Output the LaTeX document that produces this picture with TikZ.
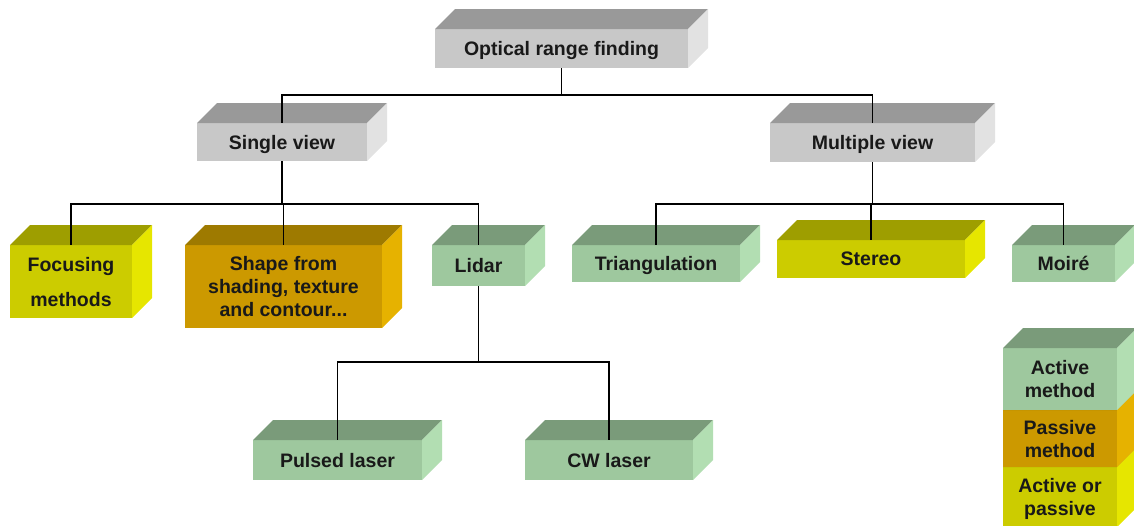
\documentclass[tikz,border=0pt]{standalone}
\usepackage{fontspec}
\setmainfont{Liberation Sans}
\usepackage{xcolor}
% face colours of the blocks: front, top, side
\definecolor{greyfront}{RGB}{200,200,200}
\definecolor{greytop}{RGB}{153,153,153}
\definecolor{greyside}{RGB}{226,226,226}
\definecolor{greenfront}{RGB}{158,200,158}
\definecolor{greentop}{RGB}{122,155,122}
\definecolor{greenside}{RGB}{178,222,178}
\definecolor{olivefront}{RGB}{204,204,0}
\definecolor{olivetop}{RGB}{158,158,0}
\definecolor{oliveside}{RGB}{230,230,0}
\definecolor{amberfront}{RGB}{204,153,0}
\definecolor{ambertop}{RGB}{158,122,0}
\definecolor{amberside}{RGB}{230,178,0}

\tikzset{
  boxface/.style={inner sep=0pt, outer sep=0pt, align=center, anchor=north west,
    text depth=0pt, font=\fontsize{19.5}{23}\selectfont\bfseries, text=black!90},
  link/.style={line width=1.6pt},
}

% block with a front face, a top face and a right side face
% #1 name, #2 left, #3 top, #4 width, #5 height, #6 colour set, #7 text
\newcommand{\methodbox}[7]{%
  \node[boxface, fill=#6front, minimum width=#4pt, minimum height=#5pt] (#1) at (#2,#3) {#7};
  \fill[#6top] (#1.north west) -- ++(20,-20) -- ([shift={(20,-20)}]#1.north east) -- (#1.north east) -- cycle;
  \fill[#6side] (#1.north east) -- ++(20,-20) -- ([shift={(20,-20)}]#1.south east) -- (#1.south east) -- cycle;
}

\begin{document}
\begin{tikzpicture}[x=1pt, y=-1pt]
    \clip (0,0) rectangle (1134,525);

    % Root and the two branches
    \methodbox{root}{435}{29}{253}{39}{grey}{Optical range finding}
    \methodbox{single}{197}{123}{170}{38}{grey}{Single view}
    \methodbox{multi}{770}{123}{205}{39}{grey}{Multiple view}

    % Single view methods
    \methodbox{focus}{10}{245}{122}{73}{olive}{Focusing\\[12pt]methods}
    \methodbox{shape}{185}{245}{197}{83}{amber}{Shape from\\shading, texture\\and contour...}
    \methodbox{lidar}{432}{245}{93}{41}{green}{Lidar}

    % Multiple view methods
    \methodbox{triang}{572}{245}{168}{37}{green}{Triangulation}
    \methodbox{stereo}{777}{240}{188}{38}{olive}{Stereo}
    \methodbox{moire}{1012}{245}{103}{37}{green}{Moir\'e}

    % Lidar types
    \methodbox{pulsed}{253}{440}{169}{40}{green}{Pulsed laser}
    \methodbox{cw}{525}{440}{168}{40}{green}{CW laser}

    % Key, stacked from the bottom up
    \methodbox{either}{1003}{467}{114}{60}{olive}{Active or\\passive}
    \methodbox{passive}{1003}{410}{114}{57}{amber}{Passive\\method}
    \methodbox{active}{1003}{348}{114}{62}{green}{Active\\method}

    % Tree lines
    \draw[link] (root.south) -- ++(0,27) -| (single.north);
    \draw[link] (root.south) -- ++(0,27) -| (multi.north);
    \foreach \leaf in {focus,shape,lidar}
      \draw[link] (single.south) -- ++(0,43) -| (\leaf.north);
    \foreach \leaf in {triang,stereo,moire}
      \draw[link] (multi.south) -- ++(0,42) -| (\leaf.north);
    \foreach \leaf in {pulsed,cw}
      \draw[link] (lidar.south) -- ++(0,76) -| (\leaf.north);
\end{tikzpicture}
\end{document}
